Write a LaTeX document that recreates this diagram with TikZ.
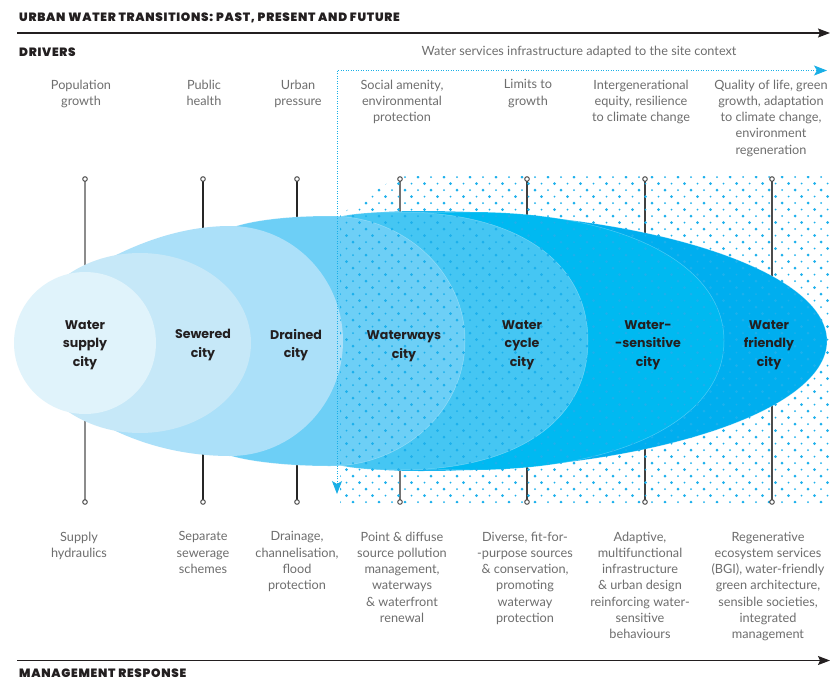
\documentclass[tikz,border=0pt]{standalone}
\usepackage{fontspec}
\setmainfont{Lato}
\newfontfamily\popp{Poppins}
\IfFontExistsTF{Poppins Black}{\newfontfamily\headfam{Poppins Black}[LetterSpace=6]}{\newfontfamily\headfam{Poppins}[LetterSpace=8,UprightFont={* Bold}]}
\usetikzlibrary{arrows.meta}
\definecolor{txtgray}{HTML}{6E6E6E}
\definecolor{ink}{HTML}{231F20}
\definecolor{cSupply}{HTML}{E0F3FB}
\definecolor{cSewer}{HTML}{C6E8F8}
\definecolor{cDrain}{HTML}{ABE0F9}
\definecolor{cWays}{HTML}{6DCFF6}
\definecolor{cCycle}{HTML}{45C6F3}
\definecolor{cSens}{HTML}{00B9F1}
\definecolor{cFriend}{HTML}{00AEEF}
\definecolor{dotc}{HTML}{1CB0EC}
\definecolor{arrowblue}{HTML}{1AAFE6}
\tikzset{
  body/.style={align=center, inner sep=0pt, anchor=north, text=txtgray,
    font=\fontsize{12.7}{16.3}\selectfont},
  city/.style={align=center, inner sep=0pt, text=ink,
    font=\popp\bfseries\fontsize{12.6}{18.7}\selectfont},
  head/.style={anchor=west, inner sep=0pt, text=ink,
    font=\headfam\fontsize{12}{13}\selectfont},
  shp/.style={draw=white, draw opacity=0.3, line width=0.5pt},
  vline/.style={line width=1.3pt},
  pinend/.style={circle, inner sep=0pt, minimum size=4.6pt, draw=black!75, line width=0.9pt, fill=white},
  axis/.style={line width=1.2pt, ink, -{Stealth[length=12pt,width=9pt,inset=2pt]}},
  bluearrow/.style={arrowblue, line width=0.9pt, dash pattern=on 0.9pt off 1.6pt,
    {Stealth[length=13pt,width=10pt,inset=3pt]}-{Stealth[length=13pt,width=10pt,inset=3pt]}}
}
\begin{document}
\begin{tikzpicture}[x=1pt,y=-1pt]
\useasboundingbox (0,0) rectangle (831,681);
\fill[white] (0,0) rectangle (831,681);

% headings and axes
\node[head] (title) at (19,18) {URBAN WATER TRANSITIONS: PAST, PRESENT AND FUTURE};
\node[head] (drivers) at (19,52) {DRIVERS};
\node[head] (mgmt) at (19,673.5) {MANAGEMENT RESPONSE};
\coordinate (ax1) at (17,33);
\coordinate (ax2) at (830,33);
\coordinate (bx1) at (17,660.5);
\coordinate (bx2) at (830,660.5);
\draw[axis] (ax1) -- (ax2);
\draw[axis] (bx1) -- (bx2);

% vertical driver lines
\foreach \n/\x/\c in {1/85/black!45, 2/203/black!85, 3/297/black!85, 4/400/black!55, 5/527/black!75, 6/645/black!75, 7/772/black!70}{
  \coordinate (t\n) at (\x,179);
  \coordinate (b\n) at (\x,502);
  \draw[vline, \c] (t\n) -- (b\n);
}

% city shapes, back to front
\fill[cFriend, shp] (420,211) .. controls (643.9,211) and (827,269.5) .. (827,341)
  .. controls (827,412.5) and (643.9,471) .. (420,471)
  .. controls (390,471) and (360,469) .. (345,465) -- (345,217)
  .. controls (360,213) and (390,211) .. (420,211) -- cycle;
\fill[cSens, shp] (470,212) .. controls (622.4,212) and (724,263.6) .. (724,341)
  .. controls (724,418.4) and (622.4,470) .. (470,470)
  -- (405,469) -- (405,213) -- cycle;
\fill[cCycle, shp] (400,212) .. controls (516.6,212) and (588,261) .. (588,341)
  .. controls (588,421) and (516.6,470) .. (400,470)
  .. controls (370,470) and (345,468) .. (332,463) -- (332,219)
  .. controls (345,214) and (370,212) .. (400,212) -- cycle;
\fill[cWays, shp] (330,216) .. controls (404,216) and (465,272) .. (465,341)
  .. controls (465,410) and (404,466) .. (330,466)
  .. controls (290,466) and (250,462) .. (228,455) -- (228,229)
  .. controls (250,220) and (290,216) .. (330,216) -- cycle;
\fill[cDrain] (230,226) .. controls (292.4,226) and (343,277.5) .. (343,341)
  .. controls (343,404.5) and (292.4,456) .. (230,456)
  .. controls (175,456) and (125,440) .. (85,414) -- (85,272)
  .. controls (125,248) and (175,226) .. (230,226) -- cycle;
\fill[cSewer] (140,343) ellipse [x radius=111, y radius=90];
\fill[cSupply] (85,343) circle (71);

% dot screen
\begin{scope}
\clip (340,503) -- (340,215) -- (398,176) -- (830,176) -- (830,503) -- cycle;
\foreach \j in {0,...,50}{
  \pgfmathsetmacro\yy{177+\j*6.5}
  \pgfmathsetmacro\off{mod(\j,2)*6.5}
  \foreach \i in {0,...,38}{
    \pgfmathsetmacro\rr{mod(\i+floor(\j/2),2)==0 ? 1.5 : 1.0}
    \fill[dotc] (340+\off+\i*13,\yy) circle (\rr);
  }
}
\end{scope}

% blue dotted double arrow
\coordinate (arB) at (337,494);
\coordinate (arC) at (337,70.5);
\coordinate (arR) at (827,70.5);
\draw[bluearrow] (arB) -- (arC) -- (arR);
\node[body, anchor=center] (ctx) at (579,52) {Water services infrastructure adapted to the site context};

% pin ends
\foreach \n in {1,...,7}{
  \node[pinend] (pt\n) at (t\n) {};
  \node[pinend] (pb\n) at (b\n) {};
}

% drivers
\node[body] (d1) at (81,79.5) {Population\\growth};
\node[body] (d2) at (204,79.5) {Public\\health};
\node[body] (d3) at (298,79.5) {Urban\\pressure};
\node[body] (d4) at (402,79.5) {Social amenity,\\environmental\\protection};
\node[body] (d5) at (528,79.5) {Limits to\\growth};
\node[body] (d6) at (641,79.5) {Intergenerational\\equity, resilience\\to climate change};
\node[body] (d7) at (771,79.5) {Quality of life, green\\growth, adaptation\\to climate change,\\environment\\regeneration};

% management responses
\node[body] (m1) at (79,531.5) {Supply\\hydraulics};
\node[body] (m2) at (203,531.5) {Separate\\sewerage\\schemes};
\node[body] (m3) at (297,531.5) {Drainage,\\channelisation,\\flood\\protection};
\node[body] (m4) at (402,531.5) {Point \& diffuse\\source pollution\\management,\\waterways\\\& waterfront\\renewal};
\node[body] (m5) at (525,531.5) {Diverse, fit-for-\\-purpose sources\\\& conservation,\\promoting\\waterway\\protection};
\node[body] (m6) at (640,531.5) {Adaptive,\\multifunctional\\infrastructure\\\& urban design\\reinforcing water-\\sensitive\\behaviours};
\node[body] (m7) at (768,531.5) {Regenerative\\ecosystem services\\(BGI), water-friendly\\green architecture,\\sensible societies,\\integrated\\management};

% city labels
\node[city] (c1) at (85,345) {Water\\supply\\city};
\node[city] (c2) at (203,345) {Sewered\\city};
\node[city] (c3) at (296,345) {Drained\\city};
\node[city] (c4) at (404,346) {Waterways\\city};
\node[city] (c5) at (522,345) {Water\\cycle\\city};
\node[city] (c6) at (648,345) {Water-\\-sensitive\\city};
\node[city] (c7) at (769,345) {Water\\friendly\\city};
\end{tikzpicture}
\end{document}
